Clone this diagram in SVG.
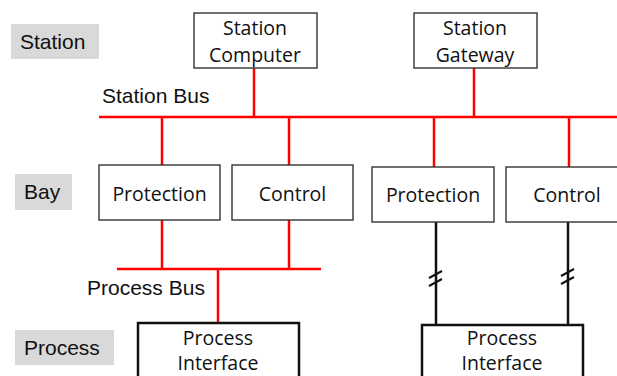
<svg xmlns="http://www.w3.org/2000/svg" width="617" height="376" viewBox="0 0 617 376">
<style>
.lvl{fill:#d9d9d9}
.lt{font-family:"Liberation Sans",Arial,sans-serif;font-size:21px;fill:#111}
.box{fill:#fff;stroke:#333;stroke-width:1.4}
.pbox{fill:#fff;stroke:#111;stroke-width:2.5}
.bt{font-family:"Open Sans","Noto Sans",sans-serif;font-size:19.5px;fill:#111;text-anchor:middle}
.red{stroke:#ff0000;stroke-width:2.5;fill:none}
.blk{stroke:#111;stroke-width:2.5;fill:none}
.sl{stroke:#111;stroke-width:2;fill:none}
</style>
<g id="level-labels">
<rect class="lvl" x="11" y="24" width="88" height="35"/>
<text class="lt" x="20" y="49">Station</text>
<rect class="lvl" x="15" y="174" width="57" height="36"/>
<text class="lt" x="24" y="199">Bay</text>
<rect class="lvl" x="15" y="330" width="99" height="35"/>
<text class="lt" x="24" y="355">Process</text>
</g>
<g id="connectors">
<line class="red" x1="99" y1="117" x2="617" y2="117"/>
<line class="red" x1="254" y1="68" x2="254" y2="117"/>
<line class="red" x1="474" y1="68" x2="474" y2="117"/>
<line class="red" x1="162" y1="117" x2="162" y2="165"/>
<line class="red" x1="289" y1="117" x2="289" y2="165"/>
<line class="red" x1="434" y1="117" x2="434" y2="167"/>
<line class="red" x1="569" y1="117" x2="569" y2="167"/>
<line class="red" x1="162" y1="220" x2="162" y2="269"/>
<line class="red" x1="289" y1="220" x2="289" y2="269"/>
<line class="red" x1="117" y1="269" x2="321" y2="269"/>
<line class="red" x1="218" y1="269" x2="218" y2="323"/>
<line class="blk" x1="436" y1="222" x2="436" y2="325"/>
<line class="blk" x1="568" y1="222" x2="568" y2="325"/>
<path class="sl" d="M429,278 L442,271 M429,286 L442,279"/>
<path class="sl" d="M561,276 L574,269 M561,284 L574,277"/>
<text class="lt" x="102" y="103">Station Bus</text>
<text class="lt" x="87" y="295">Process Bus</text>
</g>
<g id="station-computer">
<rect class="box" x="194" y="13" width="123" height="55"/>
<text class="bt" x="255" y="35">Station</text>
<text class="bt" x="255" y="62">Computer</text>
</g>
<g id="station-gateway">
<rect class="box" x="414" y="13" width="123" height="55"/>
<text class="bt" x="475" y="35">Station</text>
<text class="bt" x="475" y="62">Gateway</text>
</g>
<g id="protection-1">
<rect class="box" x="99" y="165" width="121" height="55"/>
<text class="bt" x="159.5" y="201">Protection</text>
</g>
<g id="control-1">
<rect class="box" x="232" y="165" width="121" height="55"/>
<text class="bt" x="292.5" y="201">Control</text>
</g>
<g id="protection-2">
<rect class="box" x="372" y="167" width="122" height="55"/>
<text class="bt" x="433" y="202">Protection</text>
</g>
<g id="control-2">
<rect class="box" x="506" y="167" width="122" height="55"/>
<text class="bt" x="567" y="202">Control</text>
</g>
<g id="process-interface-1">
<rect class="pbox" x="138" y="323" width="161" height="70"/>
<text class="bt" x="218" y="345">Process</text>
<text class="bt" x="218" y="370">Interface</text>
</g>
<g id="process-interface-2">
<rect class="pbox" x="422" y="325" width="161" height="70"/>
<text class="bt" x="502" y="345">Process</text>
<text class="bt" x="502" y="370">Interface</text>
</g>
</svg>
